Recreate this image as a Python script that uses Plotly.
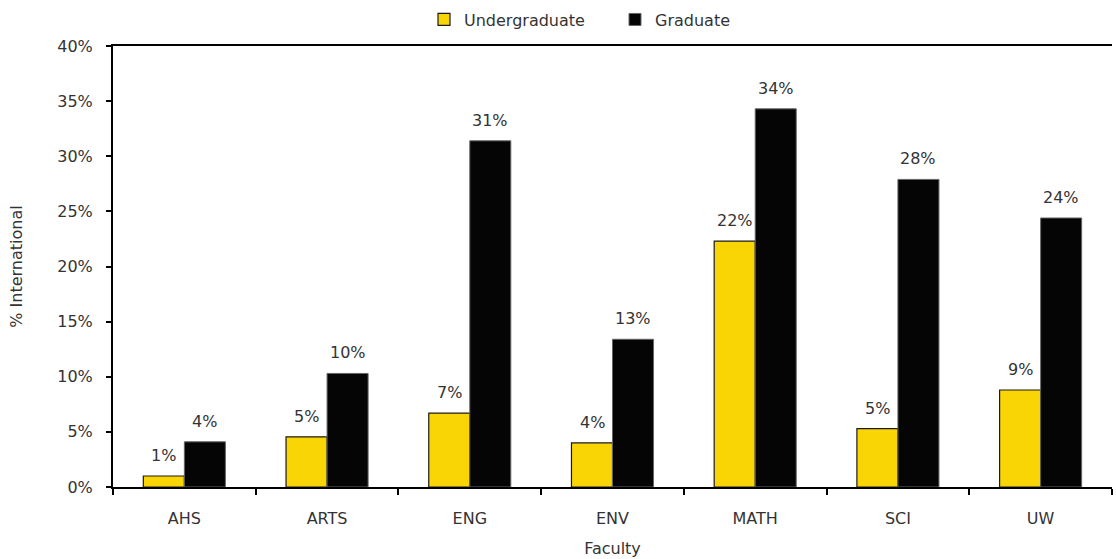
import plotly.graph_objects as go

categories = ["AHS", "ARTS", "ENG", "ENV", "MATH", "SCI", "UW"]
undergrad = [0.010, 0.0455, 0.067, 0.040, 0.223, 0.053, 0.088]
graduate = [0.041, 0.103, 0.314, 0.134, 0.343, 0.279, 0.244]
y_ticks = [0, 0.05, 0.10, 0.15, 0.20, 0.25, 0.30, 0.35, 0.40]

FONT = "DejaVu Sans"
TXT = "#333333"
FS = 16


def pct(v):
    return f"{int(v * 100 + 0.5)}%"


fig = go.Figure()
fig.add_trace(go.Bar(
    name="Undergraduate", x=categories, y=undergrad,
    marker=dict(color="#FAD505", line=dict(color="#1a1a1a", width=1.2)),
))
fig.add_trace(go.Bar(
    name="Graduate", x=categories, y=graduate,
    marker=dict(color="#050505", line=dict(color="#666666", width=1)),
))

annotations = []
for c, u, g in zip(categories, undergrad, graduate):
    annotations.append(dict(x=c, y=u, text=pct(u), xshift=-20.5, yshift=9,
                            showarrow=False, yanchor="bottom", font=dict(family=FONT, size=FS, color=TXT)))
    annotations.append(dict(x=c, y=g, text=pct(g), xshift=20.5, yshift=9,
                            showarrow=False, yanchor="bottom", font=dict(family=FONT, size=FS, color=TXT)))

fig.update_layout(
    width=1116, height=559,
    margin=dict(l=113, r=4, t=46, b=72, autoexpand=False),
    paper_bgcolor="white", plot_bgcolor="white",
    barmode="group", bargap=0.425, bargroupgap=0,
    font=dict(family=FONT, size=FS, color=TXT),
    annotations=annotations,
    showlegend=True,
    legend=dict(orientation="h", xref="container", yref="container",
                x=424 / 1116, y=0.965, xanchor="left", yanchor="middle",
                entrywidth=146, entrywidthmode="pixels",
                font=dict(family=FONT, size=FS, color=TXT),
                itemwidth=30, traceorder="normal"),
    xaxis=dict(showline=True, linecolor="black", linewidth=2, mirror=True,
               ticks="outside", tickson="boundaries", ticklen=6, tickcolor="black", tickwidth=2,
               ticklabelstandoff=16, automargin=False,
               title=dict(text="Faculty", font=dict(family=FONT, size=FS, color=TXT), standoff=16),
               tickfont=dict(family=FONT, size=FS, color=TXT), showgrid=False),
    yaxis=dict(range=[0, 0.40], tickvals=y_ticks, tickformat=".0%",
               showline=True, linecolor="black", linewidth=2,
               ticks="outside", ticklen=5, tickcolor="black", tickwidth=2,
               ticklabelstandoff=10, automargin=False,
               showgrid=False, zeroline=False,
               title=dict(text="% International", font=dict(family=FONT, size=FS, color=TXT), standoff=31),
               tickfont=dict(family=FONT, size=FS, color=TXT)),
)

fig.write_html("out.html", config={"displayModeBar": False},
               post_script="document.body.style.margin='0';document.body.style.overflow='hidden';")
